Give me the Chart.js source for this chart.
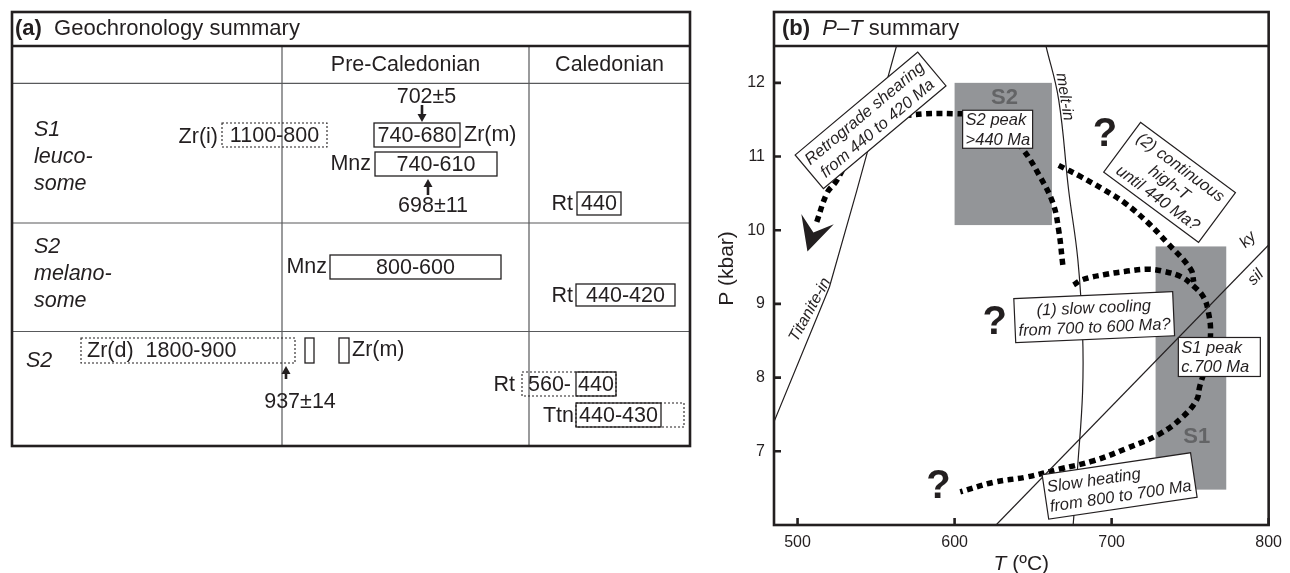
<!DOCTYPE html>
<html>
<head>
<meta charset="utf-8">
<script src="https://cdn.jsdelivr.net/npm/chart.js@4.4.1/dist/chart.umd.min.js"></script>
<style>
  html, body { margin: 0; padding: 0; background: #fff; }
  #wrap { position: relative; width: 1290px; height: 573px; }
  #geo { position: absolute; left: 0; top: 0; }
  #pt { position: absolute; left: 700px; top: 0; }
</style>
</head>
<body>
<div id="wrap">
  <canvas id="geo" width="700" height="573"></canvas>
  <canvas id="pt" width="590" height="573"></canvas>
</div>
<script>
const FONT = "'Liberation Sans', Arial, Helvetica, sans-serif";
const INK = '#231f20';

// ---------------- (a) Geochronology summary ----------------
const periods = ['Pre-Caledonian', 'Caledonian'];
const samples = [['S1', 'leuco-', 'some'], ['S2', 'melano-', 'some'], ['S2']];
// age ranges (Ma) written in the boxes, row by row
const rangeLabels = ['1100-800', '740-680', '740-610', '440',
                     '800-600', '440-420',
                     'Zr(d)  1800-900', '', '', '560-', '440', '', '440-430'];
const mineralLabels = ['Zr(i)', 'Zr(m)', 'Mnz', 'Rt', 'Mnz', 'Rt', 'Zr(m)', 'Rt', 'Ttn'];
const spotAges = ['702±5', '698±11', '937±14'];

// table layout in table units (x 0-678, y 0-434 downwards)
const tableCols = [270, 517];
const tableRows = [34, 71.3, 211, 319.5];
const sampleAnchors = [[22, 118], [22, 235], [14, 349]];
const rangeBoxes = [ // x0, x1, y0, y1, dotted, align
  [210, 315, 111, 135, true, 'center'],
  [362, 448, 111, 135, false, 'center'],
  [363, 485, 140, 164, false, 'center'],
  [565, 609, 180, 203, false, 'center'],
  [318, 489, 243, 267, false, 'center'],
  [564, 663, 272, 294, false, 'center'],
  [69, 283, 326, 351, true, 'left'],
  [293, 302, 326, 351, false, 'center'],
  [327, 337, 326, 351, false, 'center'],
  [510, 604, 360, 384, true, 'left'],
  [564, 604, 360, 384, false, 'center'],
  [564, 672, 391, 415, true, 'center'],
  [564, 649, 391, 415, false, 'center']
];
const mineralAnchors = [ // x, y, align
  [206, 125, 'right'], [452, 123, 'left'], [359, 152, 'right'], [561, 192, 'right'],
  [315, 255, 'right'], [561, 284, 'right'],
  [340, 338, 'left'], [503, 373, 'right'], [562, 404, 'right']
];
const spotAnchors = [ // label x, label y, arrow x, arrow base y, arrow tip y
  [414.5, 85, 410, 93, 110],
  [421, 194, 416, 183, 167],
  [288, 390, 274, 367, 354]
];

// ---------------- (b) P-T summary ----------------
const tempTicks = [500, 600, 700, 800];
const pressTicks = [7, 8, 9, 10, 11, 12];
const titaniteIn = [[485, 7.40], [520.3, 9.23], [537.5, 10.52], [563, 12.5]];
const meltIn = [[658.2, 12.5], [666.3, 11.77], [672.6, 10.55], [678.5, 9.6], [681.5, 8.6],
                [681.5, 7.8], [678.5, 6.83], [675.5, 6.0]];
const kySil = [[626.4, 6.0], [800, 9.80]];
const retroPath = [[668.9, 9.53], [666.3, 10.0], [662.6, 10.37], [653.8, 10.75], [643.8, 11.09],
                   [626.8, 11.52], [601.7, 11.58], [570.3, 11.56], [551.5, 11.47], [535.8, 11.09],
                   [524.5, 10.66], [518.9, 10.51], [512.0, 10.10]];
const retroArrowTip = [506.3, 9.71];
const highTPath = [[666.3, 10.88], [680.1, 10.73], [695.8, 10.54], [708.4, 10.37],
                   [722.8, 10.11], [735.4, 9.83], [750.4, 9.47], [752.3, 9.30]];
const s1Path = [[675.8, 9.26], [681.4, 9.33], [695.8, 9.40], [708.4, 9.44], [722.8, 9.47],
                [733.5, 9.44], [744.1, 9.37], [752.3, 9.24], [758.6, 9.09], [761.7, 8.88],
                [763.0, 8.61], [761.1, 8.24], [756.1, 7.88], [754.2, 7.70], [745.4, 7.47],
                [731.0, 7.24], [709.6, 7.04], [688.3, 6.87], [667.0, 6.76], [645.6, 6.65],
                [624.9, 6.58], [603.6, 6.45]];
const s2Field = { t: [600, 662], p: [10.07, 12.0] };
const s1Field = { t: [728, 773], p: [6.48, 9.78] };

const ptNotes = [
  ['Retrograde shearing', 'from 440 to 420 Ma'],
  ['S2 peak', '>440 Ma'],
  ['(2) continuous', 'high-T', 'until 440 Ma?'],
  ['(1) slow cooling', 'from 700 to 600 Ma?'],
  ['S1 peak', 'c.700 Ma'],
  ['Slow heating', 'from 800 to 700 Ma']
];
const noteLayout = [ // T, P (centre), angle, width, height, align
  [546.5, 11.49, -40, 160, 44, 'center'],
  [627.4, 11.37, 0, 70, 38, 'left'],
  [736.9, 10.65, 36.5, 118, 62, 'center'],
  [688.9, 8.82, -2.5, 159, 44, 'center'],
  [768.6, 8.28, 0, 82, 39, 'left'],
  [705.1, 6.53, -8.4, 150, 45, 'left']
];
const unknowns = [[695.8, 11.30], [625.6, 8.76], [589.8, 6.53]];
const reactionLabels = ['melt-in', 'Titanite-in', 'ky', 'sil'];
const reactionLayout = [ // T, P, angle
  [670.1, 11.81, 81], [507.9, 8.92, -61.3], [786.8, 9.87, -45], [791.8, 9.36, -45]
];
const fieldLabels = ['S2', 'S1'];
const fieldLabelPos = [[631.8, 11.79], [754.2, 7.19]];

const pts = arr => arr.map(([t, p]) => ({ x: t, y: p }));

// ---------- drawing helpers ----------
function arrow(ctx, x, yBase, yTip) {
  const dir = Math.sign(yTip - yBase);
  ctx.beginPath();
  ctx.moveTo(x, yBase);
  ctx.lineTo(x, yTip - dir * 6);
  ctx.lineWidth = 2.6;
  ctx.stroke();
  ctx.beginPath();
  ctx.moveTo(x, yTip);
  ctx.lineTo(x - 4.5, yTip - dir * 8);
  ctx.lineTo(x + 4.5, yTip - dir * 8);
  ctx.closePath();
  ctx.fill();
}

function noteBox(ctx, x, y, ang, w, h, lines, align, font, lh) {
  ctx.save();
  ctx.translate(x, y);
  ctx.rotate(ang * Math.PI / 180);
  ctx.fillStyle = '#fff';
  ctx.fillRect(-w / 2, -h / 2, w, h);
  ctx.lineWidth = 1.2;
  ctx.strokeStyle = INK;
  ctx.strokeRect(-w / 2, -h / 2, w, h);
  ctx.fillStyle = INK;
  ctx.font = font;
  ctx.textBaseline = 'middle';
  ctx.textAlign = align;
  const tx = align === 'left' ? -w / 2 + 3 : 0;
  lines.forEach((s, i) => ctx.fillText(s, tx, (i - (lines.length - 1) / 2) * lh + 1));
  ctx.restore();
}

function runs(ctx, x, y, parts) {
  let cx = x;
  parts.forEach(([txt, font]) => {
    ctx.font = font;
    ctx.fillText(txt, cx, y);
    cx += ctx.measureText(txt).width;
  });
}

// ---------- (a) chart ----------
const geoDecor = {
  id: 'geoDecor',
  afterDraw(chart) {
    const { ctx, scales: { x, y } } = chart;
    const X = v => x.getPixelForValue(v), Y = v => y.getPixelForValue(v);
    const x0 = X(0), x1 = X(678), y0 = Y(0), y1 = Y(434);
    ctx.save();
    // cell rules
    ctx.strokeStyle = '#58595b';
    ctx.lineWidth = 1.2;
    ctx.beginPath();
    tableRows.slice(1).forEach(r => { ctx.moveTo(x0, Y(r)); ctx.lineTo(x1, Y(r)); });
    tableCols.forEach(c => { ctx.moveTo(X(c), Y(tableRows[0])); ctx.lineTo(X(c), y1); });
    ctx.stroke();
    // frame and header rule
    ctx.strokeStyle = INK;
    ctx.lineWidth = 2.6;
    ctx.strokeRect(x0, y0, x1 - x0, y1 - y0);
    ctx.beginPath();
    ctx.moveTo(x0, Y(tableRows[0]));
    ctx.lineTo(x1, Y(tableRows[0]));
    ctx.stroke();

    ctx.fillStyle = INK;
    ctx.textBaseline = 'middle';
    // header
    ctx.textAlign = 'left';
    runs(ctx, X(3), Y(17), [['(a)', `bold 22px ${FONT}`], ['  Geochronology summary', `22px ${FONT}`]]);
    // period headings
    ctx.textAlign = 'center';
    ctx.font = `21.5px ${FONT}`;
    const colEdges = [tableCols[0], tableCols[1], 678];
    periods.forEach((p, i) => ctx.fillText(p, X((colEdges[i] + colEdges[i + 1]) / 2), Y((tableRows[0] + tableRows[1]) / 2)));
    // sample names
    ctx.textAlign = 'left';
    ctx.font = `italic 21.5px ${FONT}`;
    samples.forEach((lines, i) => {
      const [ax, ay] = sampleAnchors[i];
      lines.forEach((s, k) => ctx.fillText(s, X(ax), Y(ay + k * 27)));
    });
    // age boxes
    rangeBoxes.forEach((b, i) => {
      const [bx0, bx1, by0, by1, dotted, align] = b;
      ctx.save();
      ctx.lineWidth = dotted ? 1.1 : 1.3;
      ctx.setLineDash(dotted ? [2, 2] : []);
      ctx.strokeStyle = INK;
      ctx.strokeRect(X(bx0), Y(by0), X(bx1) - X(bx0), Y(by1) - Y(by0));
      ctx.restore();
      if (rangeLabels[i]) {
        ctx.font = `21.5px ${FONT}`;
        ctx.textAlign = align;
        const tx = align === 'left' ? X(bx0) + 6 : (X(bx0) + X(bx1)) / 2;
        ctx.fillText(rangeLabels[i], tx, (Y(by0) + Y(by1)) / 2 + 1);
      }
    });
    // mineral names
    ctx.font = `21.5px ${FONT}`;
    mineralLabels.forEach((m, i) => {
      const [mx, my, al] = mineralAnchors[i];
      ctx.textAlign = al;
      ctx.fillText(m, X(mx), Y(my));
    });
    // spot ages with arrows
    ctx.strokeStyle = INK;
    spotAges.forEach((s, i) => {
      const [lx, ly, axp, ab, at] = spotAnchors[i];
      ctx.textAlign = 'center';
      ctx.font = `21.5px ${FONT}`;
      ctx.fillText(s, X(lx), Y(ly));
      arrow(ctx, X(axp), Y(ab), Y(at));
    });
    ctx.restore();
  }
};

new Chart(document.getElementById('geo'), {
  type: 'scatter',
  data: { datasets: [] },
  options: {
    responsive: false, animation: false, events: [], devicePixelRatio: 1,
    layout: { padding: { left: 12, top: 12, right: 10, bottom: 127 } },
    plugins: { legend: { display: false }, tooltip: { enabled: false } },
    scales: {
      x: { type: 'linear', min: 0, max: 678, display: false },
      y: { type: 'linear', min: 0, max: 434, reverse: true, display: false }
    }
  },
  plugins: [geoDecor]
});

// ---------- (b) chart ----------
const ptDecor = {
  id: 'ptDecor',
  beforeDatasetsDraw(chart) {
    const { ctx, scales: { x, y } } = chart;
    ctx.save();
    ctx.fillStyle = '#939598';
    [s2Field, s1Field].forEach(f => {
      const fx0 = x.getPixelForValue(f.t[0]), fx1 = x.getPixelForValue(f.t[1]);
      const fy0 = y.getPixelForValue(f.p[1]), fy1 = y.getPixelForValue(f.p[0]);
      ctx.fillRect(fx0, fy0, fx1 - fx0, fy1 - fy0);
    });
    ctx.fillStyle = '#636466';
    ctx.font = `bold 22px ${FONT}`;
    ctx.textAlign = 'center';
    ctx.textBaseline = 'middle';
    fieldLabels.forEach((s, i) => ctx.fillText(s, x.getPixelForValue(fieldLabelPos[i][0]), y.getPixelForValue(fieldLabelPos[i][1])));
    ctx.restore();
  },
  afterDatasetsDraw(chart) {
    const { ctx, chartArea: a, scales: { x, y } } = chart;
    const X = v => x.getPixelForValue(v), Y = v => y.getPixelForValue(v);
    ctx.save();
    ctx.fillStyle = INK;
    ctx.textBaseline = 'middle';
    ctx.textAlign = 'center';
    // reaction labels
    ctx.font = `italic 16px ${FONT}`;
    reactionLabels.forEach((s, i) => {
      const [t, p, ang] = reactionLayout[i];
      ctx.save();
      ctx.translate(X(t), Y(p));
      ctx.rotate(ang * Math.PI / 180);
      ctx.fillText(s, 0, 0);
      ctx.restore();
    });
    // retrograde arrowhead
    const n = retroPath.length;
    const bx = X(retroPath[n - 1][0]), by = Y(retroPath[n - 1][1]);
    const tx = X(retroArrowTip[0]), ty = Y(retroArrowTip[1]);
    let dx = tx - bx, dy = ty - by;
    const L = Math.hypot(dx, dy); dx /= L; dy /= L;
    const px = -dy, py = dx;
    ctx.beginPath();
    ctx.moveTo(tx, ty);
    ctx.lineTo(tx - dx * 34 + px * 17, ty - dy * 34 + py * 17);
    ctx.lineTo(tx - dx * 20, ty - dy * 20);
    ctx.lineTo(tx - dx * 34 - px * 17, ty - dy * 34 - py * 17);
    ctx.closePath();
    ctx.fill();
    // annotation boxes
    ptNotes.forEach((lines, i) => {
      const [t, p, ang, w, h, al] = noteLayout[i];
      noteBox(ctx, X(t), Y(p), ang, w, h, lines, al, `italic 16.5px ${FONT}`, lines.length > 2 ? 19 : 19.5);
    });
    // open questions
    ctx.fillStyle = INK;
    ctx.font = `bold 40px ${FONT}`;
    ctx.textAlign = 'center';
    ctx.textBaseline = 'middle';
    unknowns.forEach(([t, p]) => ctx.fillText('?', X(t), Y(p) + 1));
    // inward ticks
    ctx.strokeStyle = INK;
    ctx.lineWidth = 2.6;
    ctx.beginPath();
    x.ticks.forEach(tk => { const px2 = X(tk.value); ctx.moveTo(px2, a.bottom); ctx.lineTo(px2, a.bottom - 7); });
    y.ticks.forEach(tk => { const py2 = Y(tk.value); ctx.moveTo(a.left, py2); ctx.lineTo(a.left + 7, py2); });
    ctx.stroke();
    // frame with header strip
    const top = a.top - 34;
    ctx.strokeRect(a.left, top, a.right - a.left, a.bottom - top);
    ctx.beginPath();
    ctx.moveTo(a.left, a.top);
    ctx.lineTo(a.right, a.top);
    ctx.stroke();
    // header
    ctx.textAlign = 'left';
    runs(ctx, a.left + 8, top + 17, [['(b)', `bold 22px ${FONT}`], ['  ', `22px ${FONT}`], ['P', `italic 22px ${FONT}`],
      ['–', `22px ${FONT}`], ['T', `italic 22px ${FONT}`], [' summary', `22px ${FONT}`]]);
    // axis titles
    ctx.font = `21px ${FONT}`;
    ctx.save();
    ctx.translate(a.left - 47, (top + a.bottom) / 2);
    ctx.rotate(-Math.PI / 2);
    ctx.textAlign = 'center';
    ctx.fillText('P (kbar)', 0, 0);
    ctx.restore();
    ctx.font = `italic 21px ${FONT}`;
    const w1 = ctx.measureText('T').width;
    ctx.font = `21px ${FONT}`;
    const w2 = ctx.measureText(' (ºC)').width;
    runs(ctx, (a.left + a.right) / 2 - (w1 + w2) / 2, a.bottom + 39, [['T', `italic 21px ${FONT}`], [' (ºC)', `21px ${FONT}`]]);
    ctx.restore();
  }
};

const thin = { showLine: true, borderColor: INK, borderWidth: 1.2, pointRadius: 0 };
const dotted = { showLine: true, borderColor: '#000', borderWidth: 5.5, borderDash: [6, 4.5], borderCapStyle: 'butt', pointRadius: 0, tension: 0.4 };

new Chart(document.getElementById('pt'), {
  type: 'scatter',
  data: {
    datasets: [
      { ...thin, data: pts(titaniteIn), tension: 0 },
      { ...thin, data: pts(meltIn), tension: 0.4 },
      { ...thin, data: pts(kySil), tension: 0 },
      { ...dotted, data: pts(retroPath) },
      { ...dotted, data: pts(highTPath) },
      { ...dotted, data: pts(s1Path) }
    ]
  },
  options: {
    responsive: false, animation: false, events: [], devicePixelRatio: 1,
    layout: { padding: { left: 0, top: 46, right: 14, bottom: 0 } },
    plugins: { legend: { display: false }, tooltip: { enabled: false } },
    scales: {
      x: {
        type: 'linear', min: 485, max: 800,
        afterBuildTicks: s => { s.ticks = tempTicks.map(v => ({ value: v })); },
        afterFit: s => { s.height = 48; },
        grid: { display: false, drawTicks: false },
        border: { display: false },
        ticks: { padding: 8, color: INK, font: { family: FONT, size: 16 }, maxRotation: 0, autoSkip: false }
      },
      y: {
        type: 'linear', min: 6, max: 12.5,
        afterBuildTicks: s => { s.ticks = pressTicks.map(v => ({ value: v })); },
        afterFit: s => { s.width = 74; },
        grid: { display: false, drawTicks: false },
        border: { display: false },
        ticks: { padding: 9, color: INK, font: { family: FONT, size: 16 }, autoSkip: false }
      }
    }
  },
  plugins: [ptDecor]
});
</script>
</body>
</html>
